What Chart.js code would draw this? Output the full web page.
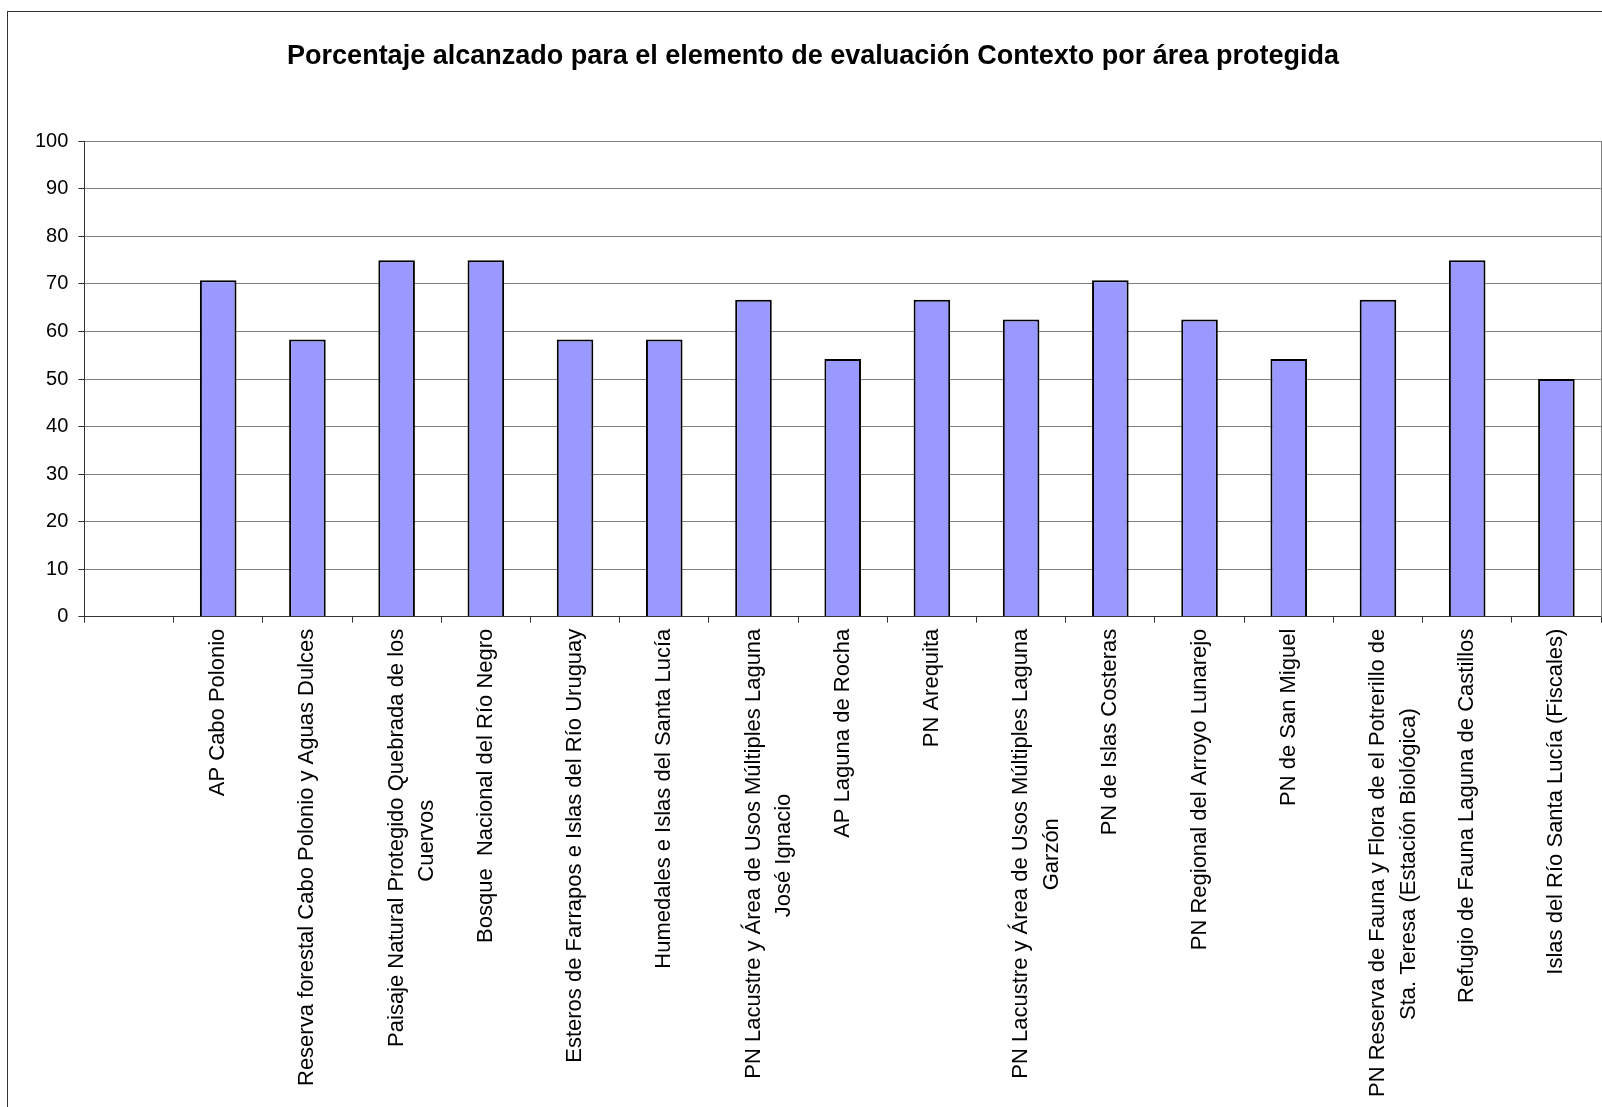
<!DOCTYPE html>
<html>
<head>
<meta charset="utf-8">
<script src="https://cdn.jsdelivr.net/npm/chart.js@4.4.1/dist/chart.umd.min.js"></script>
<style>
  html, body { margin: 0; padding: 0; background: #fff; }
  #frame { position: absolute; left: 7px; top: 11px; width: 1620px; height: 1120px; border: 1px solid #333; }
  #wrap { position: absolute; left: 0; top: 0; width: 1602px; height: 1107px; }
</style>
</head>
<body>
<div id="frame"></div>
<div id="wrap"><canvas id="chart"></canvas></div>
<script>
// Data
const titleText = 'Porcentaje alcanzado para el elemento de evaluación Contexto por área protegida';
const areas = [
  '',
  'AP Cabo Polonio',
  'Reserva forestal Cabo Polonio y Aguas Dulces',
  ['Paisaje Natural Protegido Quebrada de los', 'Cuervos'],
  'Bosque  Nacional del Río Negro',
  'Esteros de Farrapos e Islas del Río Uruguay',
  'Humedales e Islas del Santa Lucía',
  ['PN Lacustre y Área de Usos Múltiples Laguna', 'José Ignacio'],
  'AP Laguna de Rocha',
  'PN Arequita',
  ['PN Lacustre y Área de Usos Múltiples Laguna', 'Garzón'],
  'PN de Islas Costeras',
  'PN Regional del Arroyo Lunarejo',
  'PN de San Miguel',
  ['PN Reserva de Fauna y Flora de el Potrerillo de', 'Sta. Teresa (Estación Biológica)'],
  'Refugio de Fauna Laguna de Castillos',
  'Islas del Río Santa Lucía (Fiscales)'
];
const porcentaje = [null, 70.8, 58.3, 75, 75, 58.3, 58.3, 66.7, 54.2, 66.7, 62.5, 70.8, 62.5, 54.2, 66.7, 75, 50];
const yMin = 0, yMax = 100, yStep = 10;

const FONT = '"Liberation Sans", Arial, sans-serif';
const xFontSize = 22;

// pad shorter lines with trailing spaces so wrapped labels look centred
const measure = document.createElement('canvas').getContext('2d');
measure.font = xFontSize + 'px ' + FONT;
function centerLines(label) {
  if (!Array.isArray(label)) return label;
  const widths = label.map(l => measure.measureText(l).width);
  const maxW = Math.max(...widths);
  const sp = measure.measureText(' ').width;
  return label.map((l, i) => l + ' '.repeat(Math.round((maxW - widths[i]) / 2 / sp)));
}

Chart.defaults.color = '#000';
Chart.defaults.font.family = FONT;

new Chart(document.getElementById('chart'), {
  type: 'bar',
  data: {
    labels: areas.map(centerLines),
    datasets: [{
      data: porcentaje,
      backgroundColor: '#9999FF',
      borderColor: '#000',
      borderWidth: 2,
      barPercentage: 0.41,
      categoryPercentage: 1
    }]
  },
  options: {
    responsive: true,
    maintainAspectRatio: false,
    animation: false,
    layout: { padding: { left: 25, right: 1, top: 0, bottom: 4 } },
    plugins: {
      legend: { display: false },
      tooltip: { enabled: false },
      title: {
        display: true,
        text: titleText,
        font: { size: 27, weight: 'bold', family: FONT },
        color: '#000',
        padding: { top: 40, bottom: 69 }
      }
    },
    scales: {
      x: {
        offset: true,
        grid: { display: true, drawOnChartArea: false, offset: true, tickLength: 6, tickColor: '#333' },
        border: { color: '#333', width: 1 },
        ticks: {
          autoSkip: false,
          maxRotation: 90,
          minRotation: 90,
          padding: 6,
          font: { size: xFontSize, lineHeight: 1.4 }
        }
      },
      y: {
        min: yMin,
        max: yMax,
        grid: { color: '#808080', tickLength: 6, tickColor: '#333' },
        border: { color: '#333', width: 1 },
        ticks: { stepSize: yStep, padding: 10, font: { size: 20 } }
      },
      yR: {
        position: 'right',
        min: yMin,
        max: yMax,
        grid: { drawOnChartArea: false, drawTicks: false },
        border: { color: '#808080', width: 1 },
        ticks: { display: false }
      }
    }
  }
});
</script>
</body>
</html>
